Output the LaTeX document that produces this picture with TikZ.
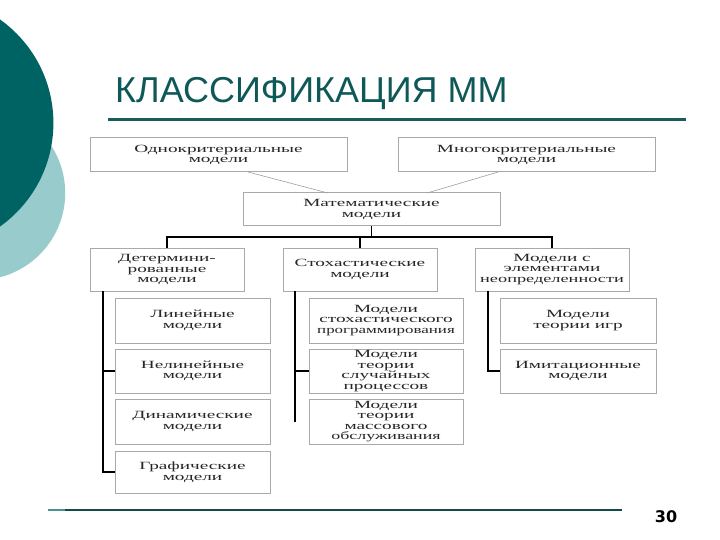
\documentclass[tikz,border=0pt]{standalone}
\usepackage{fontspec}
\usepackage{graphicx}
\usetikzlibrary{calc}
\setmainfont{Liberation Serif}
\newfontfamily\boxfont[FakeStretch=1.75]{Liberation Serif}
\newfontfamily\titlefont{Liberation Sans}
\newfontfamily\numfont{DejaVu Sans}
\definecolor{darkteal}{RGB}{0,99,99}
\definecolor{lightteal}{RGB}{152,203,203}
\definecolor{titleteal}{RGB}{14,88,88}
\definecolor{ruleteal}{RGB}{24,92,92}
\definecolor{boxline}{RGB}{170,170,170}
\newcommand{\sq}[2]{\scalebox{#1}[1]{#2}}
\tikzset{
  mbox/.style={draw=boxline, line width=1pt, fill=white, inner sep=1pt, outer sep=0pt,
    align=center, anchor=north west, text=black!85,
    font=\boxfont\fontsize{11}{10.5}\selectfont},
  tree/.style={draw=black, line width=1.1pt},
  thin/.style={draw=gray!75, line width=0.6pt}
}
\begin{document}
\begin{tikzpicture}[x=1pt,y=-1pt]
\useasboundingbox (0,0) rectangle (720,540);
\fill[white] (0,0) rectangle (720,540);
\begin{scope}
\clip (0,0) rectangle (720,540);
\fill[lightteal] (-21.8,193) circle[radius=87];
\fill[darkteal] (-73.6,123) circle[radius=127];
\end{scope}
% title
\node[anchor=base west, inner sep=0, text=titleteal, font=\titlefont\fontsize{36}{36}\selectfont] (title) at (115,103) {КЛАССИФИКАЦИЯ ММ};
\draw[ruleteal, line width=3pt] (108,120) -- (686,120);
% top level
\node[mbox, minimum width=257, minimum height=34] (one) at (90,138) {Однокритериальные\\модели};
\node[mbox, minimum width=257, minimum height=34] (many) at (398,138) {Многокритериальные\\модели};
\node[mbox, minimum width=257, minimum height=33] (math) at (243,193) {Математические\\модели};
\draw[thin] ($(one.south west)!0.615!(one.south east)$) -- ($(math.north west)!0.33!(math.north east)$);
\draw[thin] ($(many.south west)!0.39!(many.south east)$) -- ($(math.north west)!0.716!(math.north east)$);
% level 2
\node[mbox, minimum width=154, minimum height=43] (det) at (90,248) {Детермини-\\рованные\\модели};
\node[mbox, minimum width=154, minimum height=43] (sto) at (283,248) {Стохастические\\модели};
\node[mbox, minimum width=154, minimum height=43] (unc) at (475,248) {Модели с\\элементами\\\sq{0.95}{неопределенности}};
\coordinate (j) at ($(math.south)+(0,11)$);
\draw[tree] (math.south) -- (j);
\draw[tree] (det.north) |- (j) -| (unc.north);
\draw[tree] (sto.north) -- (sto.north |- j);
% left column
\node[mbox, minimum width=155, minimum height=45] (lin) at (115,298) {Линейные\\модели};
\node[mbox, minimum width=155, minimum height=44] (nlin) at (115,349) {Нелинейные\\модели};
\node[mbox, minimum width=155, minimum height=45] (dyn) at (115,399) {Динамические\\модели};
\node[mbox, minimum width=155, minimum height=42] (graf) at (115,451) {Графические\\модели};
\coordinate (d1) at ($(det.south west)+(13,0)$);
\draw[tree] (d1) |- (graf.west);
\draw[tree] (d1 |- nlin.west) -- (nlin.west);
% middle column
\node[mbox, minimum width=154, minimum height=45] (sprog) at (309,298) {Модели\\стохастического\\\sq{0.88}{программирования}};
\node[mbox, minimum width=154, minimum height=44] (sluch) at (309,349) {Модели\\теории\\случайных\\процессов};
\node[mbox, minimum width=154, minimum height=45] (mass) at (309,399) {Модели\\теории\\массового\\\sq{0.93}{обслуживания}};
\coordinate (s1) at ($(sto.south west)+(12,0)$);
\draw[tree] (s1) -- (s1 |- mass.west);
\draw[tree] (s1 |- sluch.west) -- (sluch.west);
% right column
\node[mbox, minimum width=156, minimum height=45] (game) at (500,298) {Модели\\теории игр};
\node[mbox, minimum width=156, minimum height=44] (imit) at (500,349) {Имитационные\\модели};
\coordinate (n1) at ($(unc.south west)+(13,0)$);
\draw[tree] (n1) |- (imit.west);
% bottom rule and page number
\draw[ruleteal!80!black, line width=2.5pt] (65,510) -- (622,510);
\draw[darkteal!70, line width=2.5pt] (48,510) -- (65,510);
\node[anchor=base, inner sep=0, font=\numfont\bfseries\fontsize{16}{16}\selectfont] (num) at (666,522) {30};
\end{tikzpicture}
\end{document}
